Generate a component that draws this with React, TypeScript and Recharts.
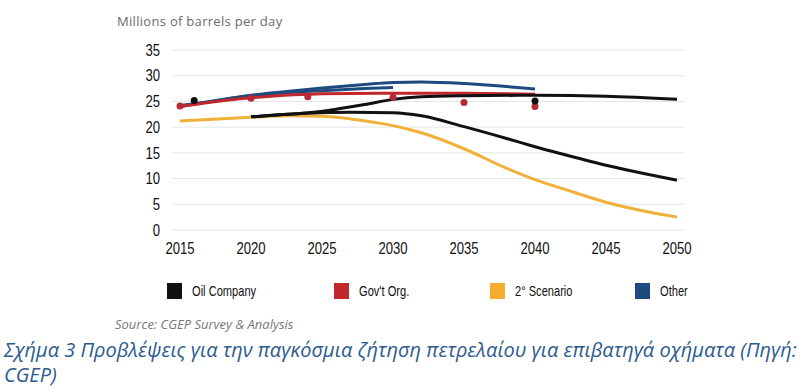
import React from "react"
import { LineChart, Line, XAxis, YAxis, CartesianGrid } from "recharts"

// x-axis ticks
const yearTicks = [2015, 2020, 2025, 2030, 2035, 2040, 2045, 2050]
const valueTicks = [0, 5, 10, 15, 20, 25, 30, 35]

// Oil Company (two projections + survey points)
const oilHighYears = [2020, 2022, 2024, 2026, 2028, 2030, 2032, 2035, 2040, 2045, 2050]
const oilHighValues = [22.0, 22.4, 22.8, 23.5, 24.4, 25.4, 25.9, 26.1, 26.2, 26.0, 25.4]
const oilLowYears = [2020, 2022, 2024, 2027, 2030, 2032, 2035, 2038, 2040, 2043, 2045, 2048, 2050]
const oilLowValues = [22.0, 22.4, 22.7, 22.9, 22.8, 22.2, 20.1, 17.8, 16.2, 14.0, 12.6, 10.8, 9.7]
const oilDotYears = [2016, 2040]
const oilDotValues = [25.2, 25.1]

// Gov't Org.
const govYears = [2015, 2017, 2020, 2023, 2025, 2030, 2035, 2040]
const govValues = [24.0, 24.8, 25.7, 26.3, 26.5, 26.6, 26.6, 26.4]
const govDotYears = [2015, 2020, 2024, 2030, 2035, 2040]
const govDotValues = [24.1, 25.6, 25.9, 25.8, 24.8, 24.0]

// 2° Scenario
const scenYears = [2015, 2017, 2020, 2023, 2025, 2027, 2030, 2032, 2035, 2038, 2040, 2042, 2045, 2048, 2050]
const scenValues = [21.2, 21.5, 21.9, 22.2, 22.1, 21.6, 20.3, 18.9, 15.8, 12.0, 9.8, 8.0, 5.4, 3.5, 2.5]

// Other
const otherAYears = [2015, 2016, 2018, 2020, 2022, 2025, 2028, 2030, 2032, 2035, 2038, 2040]
const otherAValues = [24.0, 24.5, 25.4, 26.2, 26.8, 27.6, 28.3, 28.7, 28.8, 28.5, 27.9, 27.4]
const otherBYears = [2015, 2017, 2020, 2022, 2025, 2028, 2030]
const otherBValues = [24.2, 24.9, 26.1, 26.6, 27.1, 27.5, 27.7]

const legendItems = [
  { label: "Oil Company", color: "#111111", left: 167 },
  { label: "Gov't Org.", color: "#c1272d", left: 334 },
  { label: "2° Scenario", color: "#f5ad2f", left: 490 },
  { label: "Other", color: "#1d4b7f", left: 635 },
]

const captionLines = [
  "Σχήμα 3 Προβλέψεις για την παγκόσμια ζήτηση πετρελαίου για επιβατηγά οχήματα (Πηγή:",
  "CGEP)",
]

const pts = (years: number[], values: number[]) =>
  years.map((year, i) => ({ year, value: values[i] }))

const condensed = "'Liberation Sans', Arial, sans-serif"

// narrow-looking tick labels (the original uses a condensed face)
function NarrowTick({ x, y, payload, anchor, dy }: any) {
  return (
    <text
      transform={`translate(${x},${y}) scale(0.82,1)`}
      textAnchor={anchor}
      dy={dy}
      fontSize={16}
      fontFamily={condensed}
      fill="#111"
    >
      {payload.value}
    </text>
  )
}

export default function App() {
  const lines = [
    { key: "otherB", data: pts(otherBYears, otherBValues), color: "#1d4b7f" },
    { key: "otherA", data: pts(otherAYears, otherAValues), color: "#1d4b7f" },
    { key: "gov", data: pts(govYears, govValues), color: "#c1272d" },
    { key: "scen", data: pts(scenYears, scenValues), color: "#f0b13a" },
    { key: "oilLow", data: pts(oilLowYears, oilLowValues), color: "#111111" },
    { key: "oilHigh", data: pts(oilHighYears, oilHighValues), color: "#111111" },
  ]
  const dots = [
    { key: "govDots", data: pts(govDotYears, govDotValues), color: "#b52a36" },
    { key: "oilDots", data: pts(oilDotYears, oilDotValues), color: "#111111" },
  ]

  return (
    <div style={{ position: "absolute", left: 0, top: 0, width: 808, height: 391, background: "#fff", overflow: "hidden" }}>
      <div
        style={{
          position: "absolute",
          left: 117,
          top: 12,
          fontFamily: "'Open Sans', sans-serif",
          fontSize: 13,
          letterSpacing: 0.3,
          color: "#6b6b6b",
        }}
      >
        Millions of barrels per day
      </div>

      <div style={{ position: "absolute", left: 0, top: 0 }}>
        <LineChart width={808} height={270} margin={{ top: 50, right: 123, left: 142, bottom: 10 }}>
          <CartesianGrid horizontal vertical={false} stroke="#e6e6e6" strokeWidth={1} />
          <XAxis
            type="number"
            dataKey="year"
            domain={[2015, 2050]}
            ticks={yearTicks}
            padding={{ left: 8, right: 8 }}
            axisLine={false}
            tickLine={false}
            tickMargin={7}
            height={30}
            tick={<NarrowTick anchor="middle" dy="0.71em" />}
            allowDuplicatedCategory={false}
          />
          <YAxis
            type="number"
            domain={[0, 35]}
            ticks={valueTicks}
            axisLine={false}
            tickLine={false}
            tickMargin={6}
            width={30}
            tick={<NarrowTick anchor="end" dy="0.355em" />}
          />
          {lines.map((l) => (
            <Line
              key={l.key}
              data={l.data}
              dataKey="value"
              type="monotone"
              stroke={l.color}
              strokeWidth={3}
              dot={false}
              activeDot={false}
              isAnimationActive={false}
            />
          ))}
          {dots.map((d) => (
            <Line
              key={d.key}
              data={d.data}
              dataKey="value"
              stroke="none"
              dot={{ r: 3.5, fill: d.color, stroke: "none" }}
              activeDot={false}
              isAnimationActive={false}
            />
          ))}
        </LineChart>
      </div>

      {legendItems.map((item) => (
        <div
          key={item.label}
          style={{ position: "absolute", left: item.left, top: 282, display: "flex", alignItems: "center" }}
        >
          <div style={{ width: 15, height: 16, background: item.color }} />
          <span
            style={{
              marginLeft: 10,
              fontFamily: condensed,
              fontSize: 15,
              color: "#111",
              display: "inline-block",
              transform: "scaleX(0.74)",
              transformOrigin: "left center",
              whiteSpace: "nowrap",
            }}
          >
            {item.label}
          </span>
        </div>
      ))}

      <div
        style={{
          position: "absolute",
          left: 115,
          top: 315,
          fontFamily: "'Open Sans', sans-serif",
          fontStyle: "italic",
          fontSize: 13,
          color: "#777",
          whiteSpace: "nowrap",
        }}
      >
        Source: CGEP Survey &amp; Analysis
      </div>

      {captionLines.map((text, i) => (
        <div
          key={i}
          style={{
            position: "absolute",
            left: 4,
            top: 339 + i * 25,
            fontFamily: "'Open Sans', sans-serif",
            fontStyle: "italic",
            fontSize: 20,
            lineHeight: "21px",
            color: "#2c5a8f",
            whiteSpace: "nowrap",
          }}
        >
          {text}
        </div>
      ))}
    </div>
  )
}
